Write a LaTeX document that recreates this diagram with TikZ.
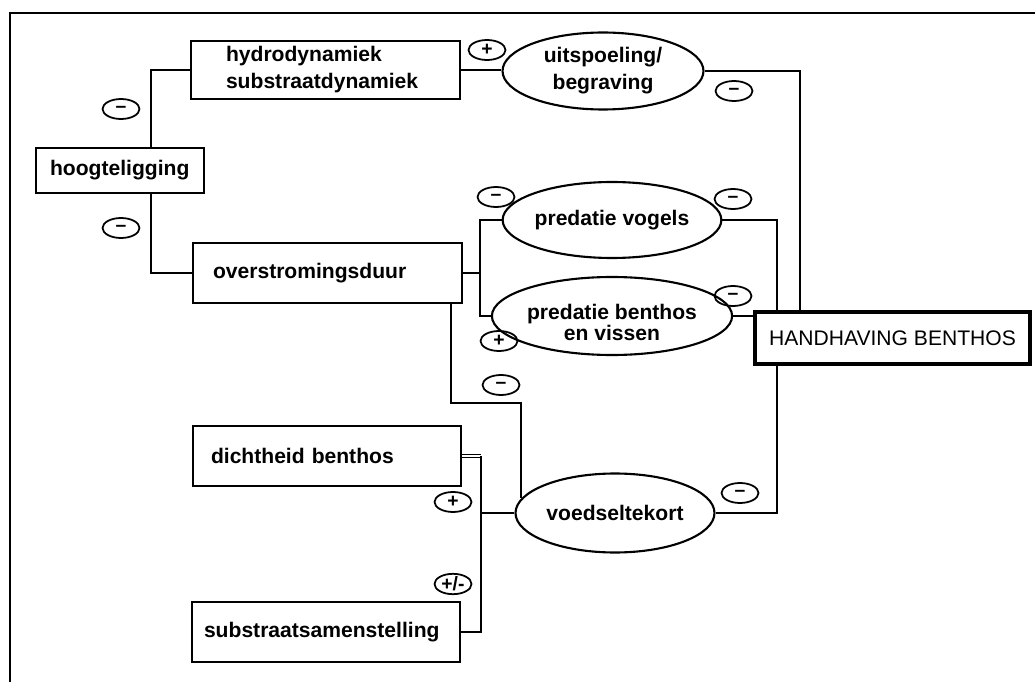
\documentclass[tikz,border=0pt]{standalone}
\usepackage{fontspec}
\setmainfont{Liberation Sans}
\usetikzlibrary{shapes.geometric}

\tikzset{
	box/.style={draw, very thick, align=left, minimum height=1.2cm, font=\fontsize{12}{15.4}\selectfont\bfseries},
	oval/.style={draw, very thick, ellipse, minimum width=4.02cm, minimum height=1.54cm, inner sep=0pt, align=center, font=\fontsize{12}{15.4}\selectfont\bfseries},
	sign/.style={draw, line width=1pt, ellipse, minimum width=0.74cm, minimum height=0.4cm, inner sep=0pt, font=\fontsize{11}{11}\selectfont\bfseries},
}

\begin{document}
\begin{tikzpicture}[x=0.02cm, y=-0.02cm]
		\useasboundingbox (0,0) rectangle (1035,682);
		\draw[thick] (10,682)--(10,13)--(1035,13);
		% rechthoeken
		\node[box, minimum height=0.9cm, inner xsep=0.28cm, text width=2.8cm] (hoog) at (120,170.5) {hoogteligging};
		\node[box, minimum height=1.16cm, inner xsep=0.7cm, text width=3.98cm] (hydro) at (325.5,70) {hydrodynamiek\\substraatdynamiek};
		\node[box, inner xsep=0.4cm, text width=4.58cm] (overstrom) at (327.5,273) {overstromingsduur};
		\node[box, inner xsep=0.36cm, text width=4.64cm] (dicht) at (327,456) {dichtheid benthos};
		\node[box, inner xsep=0.24cm, text width=4.88cm] (substr) at (326,632) {substraatsamenstelling};
		\node[draw, line width=1.8pt, minimum width=5.5cm, minimum height=1.04cm, font=\fontsize{12}{14}\selectfont] (handh) at (892.5,338) {HANDHAVING BENTHOS};
		% ellipsen
		\node[oval] (uitsp) at (603,71) {uitspoeling/\\begraving};
		\node[oval, minimum height=1.52cm] (vogels) at (612,220) {predatie vogels};
		\node[oval, minimum height=1.56cm] (predben) at (612,316) {\rule{0pt}{16pt}predatie benthos\\[-3.4pt]en vissen};
		\node[oval, minimum width=3.98cm, minimum height=1.58cm] (voedsel) at (615,513) {voedseltekort};
		% tekens
		\node[sign] (min1) at (121,109) {--};
		\node[sign] (min2) at (121,228) {--};
		\node[sign] (plus1) at (487,50) {+};
		\node[sign] (min3) at (734,91) {--};
		\node[sign] (min4) at (496,197) {--};
		\node[sign] (min5) at (733,199) {--};
		\node[sign] (min6) at (733,296) {--};
		\node[sign] (plus2) at (499,341) {+};
		\node[sign] (min7) at (501,385) {--};
		\node[sign] (plus3) at (453,502) {+};
		\node[sign, minimum height=0.36cm] (pm) at (453,584) {+/-};
		\node[sign] (min8) at (740,493) {--};
		% verbindingen
		\coordinate (xhoog) at (151,0);
		\coordinate (xsplit) at (480,0);
		\coordinate (xdown) at (451,0);
		\coordinate (ylow) at (0,403);
		\coordinate (xjoin) at (481,0);
		\coordinate (xvog) at (777,0);
		\coordinate (xuit) at (800,0);
		\draw[very thick] (xhoog |- hoog.north) |- (hydro.west);
		\draw[very thick] (xhoog |- hoog.south) |- (overstrom.west);
		\draw[very thick] (hydro.east)--(hydro.east -| uitsp.west);
		\draw[very thick] (overstrom.east)--(xsplit |- overstrom.east);
		\draw[very thick] (vogels.west) -| (xsplit |- overstrom.east) |- (predben.west);
		\draw[very thick] (xdown |- overstrom.south) |- (voedsel.171 |- ylow)--(voedsel.171);
		\draw[very thick] (uitsp.east) -| (xuit |- handh.north);
		\draw[very thick] (vogels.east) -| (xvog |- handh.north);
		\draw[very thick] (predben.east)--(predben.east -| handh.west);
		\draw[very thick] (voedsel.east) -| (xvog |- handh.south);
		\draw[line width=0.5pt, double, double distance=0.9pt] (dicht.east)--(xjoin |- dicht.east);
		\draw[very thick] (xjoin |- dicht.east) |- (substr.east);
		\draw[very thick] (voedsel.west)--(xjoin |- voedsel.west);
	\end{tikzpicture}
\end{document}
